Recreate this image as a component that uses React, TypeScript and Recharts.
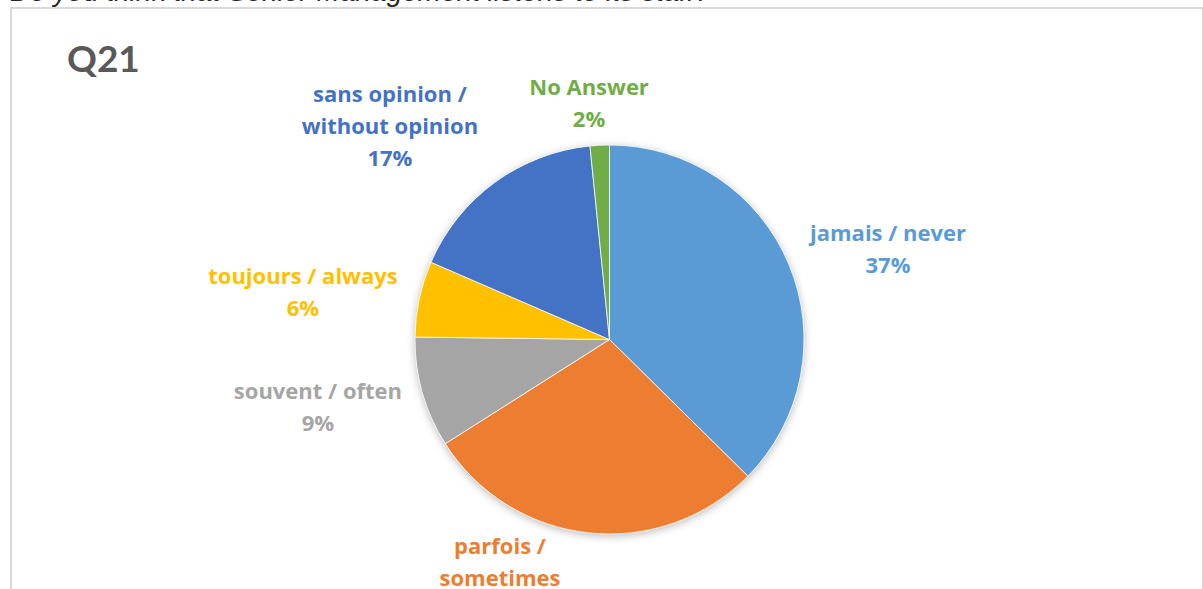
import React from "react";
import { PieChart, Pie, Cell } from "recharts";

const categories = [
  "jamais / never",
  "parfois /\nsometimes",
  "souvent / often",
  "toujours / always",
  "sans opinion /\nwithout opinion",
  "No Answer",
];
const values = [37.4, 28.6, 9.2, 6.3, 16.9, 1.6];
const colors = ["#5B9BD5", "#ED7D31", "#A5A5A5", "#FFC000", "#4472C4", "#70AD47"];
// label block centres, as multiples of the pie radius from the pie centre
const labelOffsets: [number, number][] = [
  [1.432, -0.47],
  [-0.563, 1.221],
  [-1.499, 0.344],
  [-1.576, -0.249],
  [-1.129, -1.103],
  [-0.105, -1.221],
];
const questionText = "Do you think that Senior Management listens to its staff?";
const chartTitle = "Q21";

const data = categories.map((name, i) => ({ name, value: values[i] }));
const ring = [{ name: "shadow", value: 1 }];

const LABEL_FONT = "'Open Sans', Lato, sans-serif";
const TITLE_FONT = "Lato, 'Open Sans', sans-serif";
const LINE = 32;

const renderLabel = (props: any) => {
  const { cx, cy, outerRadius, index, percent } = props;
  const [fx, fy] = labelOffsets[index];
  const x = cx + fx * outerRadius;
  const y = cy + fy * outerRadius;
  const lines = [...categories[index].split("\n"), `${Math.round(percent * 100)}%`];
  const n = lines.length;
  return (
    <text
      key={`lbl-${index}`}
      x={x}
      y={y}
      textAnchor="middle"
      fill={colors[index]}
      style={{ fontFamily: LABEL_FONT, fontWeight: 700, fontSize: 22 }}
    >
      {lines.map((t, i) => (
        <tspan key={i} x={x} y={y + (i - (n - 1) / 2) * LINE} dominantBaseline="central">
          {t}
        </tspan>
      ))}
    </text>
  );
};

export default function App() {
  return (
    <div
      style={{
        position: "absolute",
        left: 0,
        top: 0,
        width: 1203,
        height: 589,
        overflow: "hidden",
        background: "#fff",
      }}
    >
      <div
        style={{
          position: "absolute",
          left: 10,
          top: -24,
          fontFamily: "'Liberation Sans', Arial, sans-serif",
          fontStyle: "italic",
          fontSize: 28,
          lineHeight: "32px",
          color: "#262626",
          whiteSpace: "nowrap",
        }}
      >
        {questionText}
      </div>
      <div
        style={{
          position: "absolute",
          left: 10,
          top: 7,
          width: 1190,
          height: 600,
          border: "2px solid #d9d9d9",
        }}
      />
      <div
        style={{
          position: "absolute",
          left: 67,
          top: 36,
          fontFamily: TITLE_FONT,
          fontWeight: 700,
          fontSize: 37,
          lineHeight: "44px",
          color: "#595959",
        }}
      >
        {chartTitle}
      </div>
      <div style={{ position: "absolute", left: 0, top: 0 }}>
        <PieChart width={1203} height={589} margin={{ top: 0, right: 0, bottom: 0, left: 0 }}>
          <defs>
            <filter id="pieShadow" x="-20%" y="-20%" width="140%" height="140%">
              <feDropShadow dx="0" dy="2" stdDeviation="4" floodColor="#000" floodOpacity="0.28" />
            </filter>
          </defs>
          <Pie
            data={ring}
            dataKey="value"
            cx={609.5}
            cy={339.5}
            outerRadius={194.5}
            startAngle={90}
            endAngle={-270}
            stroke="none"
            isAnimationActive={false}
            label={false}
            labelLine={false}
          >
            <Cell fill="#ffffff" filter="url(#pieShadow)" />
          </Pie>
          <Pie
            data={data}
            dataKey="value"
            nameKey="name"
            cx={609.5}
            cy={339.5}
            outerRadius={194.5}
            startAngle={90}
            endAngle={-270}
            stroke="#ffffff"
            strokeWidth={0.75}
            isAnimationActive={false}
            label={renderLabel}
            labelLine={false}
          >
            {data.map((d, i) => (
              <Cell key={d.name} fill={colors[i]} />
            ))}
          </Pie>
        </PieChart>
      </div>
    </div>
  );
}
